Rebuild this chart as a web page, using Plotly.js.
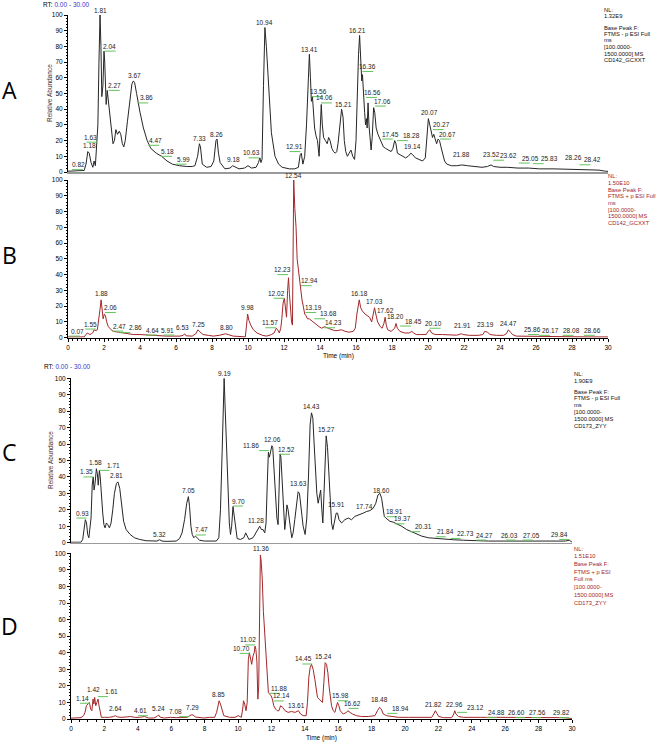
<!DOCTYPE html>
<html><head><meta charset="utf-8">
<script src="https://cdn.plot.ly/plotly-3.0.1.min.js"></script>
<style>html,body{margin:0;padding:0;background:#fff;}#chart{width:659px;height:743px;}</style>
</head><body><div id="chart"></div>
<script>
// ---------- Panel A: CD142_GCXXT, negative ESI (relative abundance vs time, min)
const aTime = [0,0.5,0.9,1.0,1.1,1.18,1.28,1.38,1.45,1.52,
 1.6,1.66,1.72,1.78,1.83,1.88,1.94,2.0,2.04,2.08,
 2.12,2.18,2.22,2.3,2.4,2.5,2.58,2.66,2.75,2.85,
 2.93,3.02,3.1,3.18,3.3,3.44,3.55,3.63,3.7,3.81,
 3.9,4.0,4.19,4.4,4.6,4.9,5.2,5.5,5.8,6.2,
 6.6,6.9,7.05,7.2,7.3,7.36,7.46,7.7,7.95,8.1,
 8.22,8.28,8.36,8.45,8.72,9.0,9.15,9.3,9.5,9.8,
 10.0,10.2,10.45,10.58,10.66,10.72,10.78,10.86,10.94,11.02,
 11.1,11.2,11.3,11.5,11.7,11.9,12.3,12.6,12.8,12.9,
 12.96,13.05,13.15,13.25,13.35,13.41,13.47,13.52,13.58,13.63,
 13.7,13.78,13.86,13.95,14.02,14.07,14.13,14.2,14.3,14.4,
 14.48,14.56,14.66,14.75,14.85,14.93,15.0,15.1,15.2,15.28,
 15.35,15.43,15.52,15.62,15.72,15.82,15.92,16.0,16.07,16.14,
 16.2,16.26,16.32,16.36,16.42,16.48,16.53,16.58,16.62,16.67,
 16.72,16.78,16.84,16.9,16.98,17.04,17.12,17.22,17.32,17.42,
 17.52,17.65,17.8,17.95,18.05,18.15,18.22,18.3,18.45,18.6,
 18.75,18.9,19.05,19.15,19.3,19.5,19.7,19.85,19.95,20.02,
 20.1,20.18,20.25,20.32,20.4,20.48,20.56,20.64,20.72,20.82,
 20.92,21.05,21.3,21.6,21.88,22.2,22.6,23.0,23.3,23.5,
 23.65,24.0,24.4,25.0,25.6,26.2,27.0,27.8,28.4,29.0,
 29.5,29.8,30];
const aAbund = [0.5,0.8,1,5,13,12,6,3,7,4,
 18,30,70,100,80,48,55,77,70,45,
 43,52,48,38,28,18,20,27,24,26,
 24,18,16,20,32,48,56,58,57,50,
 44,38,28,20,15,12,10,7,5,4,
 3.5,3.5,4,10,18,16,5,3,3.5,7,
 20,21,12,6,2,2.5,4,3,2,2.5,
 4,2.5,3,6,9,6,8,55,92,80,
 62,40,25,10,5,3,2,2,3,11,
 12,5,10,30,60,75,60,45,48,40,
 28,23,20,10,25,43,30,22,20,18,
 22,20,15,13,12,13,18,30,40,35,
 20,13,10,12,14,10,8,20,50,75,
 87,70,58,62,45,38,30,34,28,44,
 30,20,14,22,41,38,28,24,21,18,
 16,15,14,13,15,20,18,12,11,10,
 9,10,12,11,9,8,7,9,25,34,
 30,26,22,24,20,18,21,20,16,12,
 7,5,4,4,4.5,4,3.5,3,3.5,4.5,
 3.5,3,3,2.5,2.5,2,2,1.8,1.8,1.5,
 1.2,0.6,0.4];
const aLabText  = ["0.82","1.18","1.63","1.81","2.04","2.27","3.67","3.86","4.47","5.18","5.99","7.33","8.26","9.18","10.63","10.94","12.91","13.41","13.56","14.06","15.21","16.21","16.36","16.56","17.06","17.45","18.28","19.14","20.07","20.27","20.67","21.88","23.52","23.62","25.05","25.83","28.26","28.42"];
const aLabY     = [1.5,14,19,100,77,52,58,44,17,10,5,18,21,5,9,92,13,75,48,44,40,87,64,47.5,42,21,20,13,35,27,21,8,8,7.5,5.7,5.3,6,4.6];
const aLabOff   = [-0.26,0,-0.4,0,0.26,0.3,0,0.5,0.4,0.37,0.44,0,0,0,-0.43,0,-0.3,0,0.36,0.2,0.1,-0.1,0.3,0.38,0.43,0.45,0.78,0,0,0.49,0.43,0,0,0.83,0.65,0.9,-0.15,0.7];
const aLabGreen = [1,0,1,0,1,1,0,1,1,1,1,0,0,0,1,0,1,0,1,1,0,0,1,1,1,1,1,0,0,1,1,0,0,1,1,1,0,1];

// ---------- Panel B: CD142_GCXXT, positive ESI
const bTime = [0,0.5,0.9,1.0,1.07,1.15,1.22,1.3,1.37,1.45,
 1.55,1.63,1.7,1.78,1.84,1.9,1.95,2.02,2.08,2.15,
 2.24,2.4,2.52,2.8,3.07,3.4,3.63,4.0,4.56,5.0,
 5.48,5.9,6.22,6.4,6.48,6.56,6.9,7.1,7.22,7.3,
 7.5,7.8,8.07,8.4,8.6,8.75,8.9,9.18,9.5,9.85,
 9.92,9.98,10.05,10.15,10.3,10.5,10.8,11.04,11.3,11.45,
 11.57,11.65,11.74,11.82,11.88,11.95,12.02,12.08,12.14,12.2,
 12.25,12.3,12.36,12.42,12.47,12.51,12.54,12.6,12.67,12.73,
 12.78,12.85,12.92,13.0,13.07,13.15,13.22,13.3,13.4,13.5,
 13.6,13.7,13.81,13.95,14.09,14.25,14.46,14.6,14.8,14.95,
 15.2,15.4,15.6,15.85,15.96,16.05,16.12,16.18,16.26,16.35,
 16.5,16.65,16.75,16.87,16.95,17.03,17.1,17.2,17.35,17.45,
 17.55,17.62,17.68,17.76,17.95,18.15,18.22,18.3,18.44,18.7,
 18.95,19.1,19.2,19.35,19.6,19.9,20.0,20.1,20.2,20.4,
 20.8,21.2,21.6,21.85,21.95,22.3,22.8,23.05,23.15,23.3,
 23.45,23.8,24.2,24.35,24.47,24.58,24.7,24.9,25.5,26.0,
 27.0,28.0,29.0,30];
const bAbund = [0.5,0.5,0.5,2,3,2.5,2,2.5,3,5,
 4.5,5,10,18,24,18,12,15,14,10,
 7,5,4,3.5,3,2.5,2,2,1.5,1.2,
 1,1,1,1.5,2.5,1.2,1,2.5,5,4,
 2,1.5,1,1.5,2,2.5,2,1,0.8,0.5,
 8,15,11,8,5,3,1.5,1,2,3,
 6,5,3,6,12,22,25,20,13,30,
 38,28,15,10,8,60,100,82,70,50,
 45,40,30,24,20,15,14,12,12,11,
 10,9,8,7,6,7,6,5.5,4.5,4.5,
 5,4,3.5,4,6,15,22,24,19,17,
 15,14,13,10,14,19,15,10,7,6,
 9,13,8,5,4,6,9,6,4,3,
 3,4,3,2,2,2,4,5,3,2,
 2,1.8,1.6,2.5,2,1.5,1.5,2,4,3.5,
 2,1.5,1.5,2.5,5,3.5,2,1,1,0.8,
 0.7,0.6,0.5,0.5];
const bLabText  = ["0.07","1.55","1.88","2.06","2.47","2.86","4.64","5.91","6.53","7.25","8.80","9.98","11.57","12.02","12.23","12.54","12.94","13.19","13.68","14.23","16.18","17.03","17.62","18.20","18.45","20.10","21.91","23.19","24.47","25.86","26.17","28.08","28.66"];
const bLabY     = [1,5.5,25,16,4.2,3.2,1.7,1.7,3,5,3,16,6.3,25,40,100,33,16,12,6.3,25,20,14,10,7.4,6,4.5,5,6,2,1.5,1.5,1.5];
const bLabOff   = [0.46,-0.28,0,0.32,0.38,0.89,0.04,-0.4,-0.17,0,0,0,-0.37,-0.42,-0.31,0,0.46,0.46,0.8,0.5,0,0,0,0,0.75,0.23,0,0,0,-0.05,0.62,-0.13,0.48];
const bLabGreen = [1,1,0,1,1,1,1,1,0,0,0,0,1,1,1,0,1,1,1,1,0,0,0,0,1,1,0,0,0,1,1,1,1];

// ---------- Panel C: CD173_ZYY, negative ESI
const cTime = [0,0.6,0.7,0.78,0.86,0.93,1.0,1.07,1.13,1.2,
 1.27,1.33,1.38,1.44,1.52,1.58,1.63,1.7,1.75,1.82,
 1.9,1.97,2.04,2.12,2.2,2.3,2.4,2.5,2.6,2.72,
 2.81,2.92,3.04,3.15,3.3,3.54,3.8,4.1,4.5,4.9,
 5.15,5.3,5.45,5.7,6.0,6.3,6.5,6.65,6.8,6.93,
 7.03,7.1,7.18,7.26,7.35,7.45,7.55,7.7,8.0,8.4,
 8.7,8.85,8.95,9.05,9.12,9.17,9.22,9.3,9.4,9.48,
 9.55,9.62,9.7,9.76,9.84,9.95,10.15,10.35,10.46,10.55,
 10.65,10.9,11.1,11.22,11.3,11.4,11.5,11.6,11.68,11.75,
 11.82,11.88,11.95,12.03,12.08,12.16,12.25,12.33,12.4,12.46,
 12.52,12.57,12.65,12.72,12.8,12.87,12.93,13.0,13.08,13.15,
 13.22,13.3,13.4,13.5,13.6,13.68,13.78,13.9,14.02,14.12,
 14.22,14.32,14.4,14.48,14.56,14.64,14.72,14.8,14.88,14.95,
 15.02,15.08,15.15,15.22,15.28,15.36,15.45,15.53,15.6,15.68,
 15.78,15.88,15.96,16.05,16.2,16.4,16.6,16.8,17.0,17.3,
 17.5,17.7,17.9,18.1,18.25,18.38,18.5,18.6,18.68,18.76,
 18.85,18.95,19.1,19.3,19.5,19.8,20.1,20.4,20.7,21.0,
 21.4,21.9,22.4,22.9,23.5,24.0,25.0,26.0,27.0,28.0,
 29.0,29.6,29.84,30];
const cAbund = [0.3,0.3,2,8,14,12,5,3,8,15,
 35,40,32,36,45,42,35,44,40,28,
 18,11,9,12,11,9,12,20,30,36,
 37,33,22,13,8,5,3,2,1.2,0.8,
 1,1.8,1,0.8,0.8,1,2.5,6,14,24,
 28,22,10,5,3,4,3,1.5,1,0.8,
 1,3,20,55,90,100,85,60,35,12,
 5,10,22,17,8,2.5,2,3,6,4,
 2,3,7,9,10,8,8,6,12,35,
 55,52,55,59,58,45,30,15,11,35,
 54,52,38,20,8,15,23,20,15,8,
 3,6,14,22,31,30,20,10,5,15,
 40,72,79,76,60,42,30,24,30,32,
 20,12,30,58,65,58,40,25,12,8,
 14,18,18,14,12,14,15,14,16,17,
 18,19,19.5,21,24,29,30,27,20,16,
 15,14,13,12.5,11.5,10,8,6.5,5,4,
 3,2.5,2,1.8,1.5,1.2,1,1,1,1,
 1,1,1.5,0.3];
const cLabText  = ["0.93","1.35","1.58","1.71","2.81","5.32","7.05","7.47","9.19","9.70","11.28","11.86","12.06","12.52","13.63","14.43","15.27","15.91","17.74","18.60","18.91","19.37","20.31","21.84","22.73","24.27","26.03","27.05","29.84"];
const cLabY     = [15,40,46,44,38,2,29,4.7,100,22.3,10.3,56,60,53.8,33,80,66,20,19,29,15.8,11.5,6.7,3.6,2.6,1.6,1.6,1.6,2];
const cLabOff   = [-0.26,-0.41,-0.1,0.86,-0.07,0,0,0.36,0,0.32,-0.21,-1.1,0,0.41,0,0,0,0,-0.14,0,0.49,0.5,0.82,0.6,0.9,0.5,0.2,0.5,-0.56];
const cLabGreen = [1,1,0,1,0,0,0,1,0,1,0,1,0,1,0,0,0,0,0,0,1,1,1,1,1,1,1,1,1];

// ---------- Panel D: CD173_ZYY, positive ESI
const dTime = [0,0.6,0.75,0.84,0.92,1.0,1.1,1.18,1.25,1.32,
 1.37,1.42,1.48,1.55,1.62,1.68,1.74,1.82,2.0,2.3,
 2.55,2.65,2.8,3.0,3.3,3.55,3.8,4.1,4.4,4.63,
 4.95,5.15,5.24,5.35,5.6,5.95,6.3,6.6,6.95,7.2,
 7.3,7.45,7.7,7.95,8.3,8.6,8.72,8.8,8.87,8.95,
 9.05,9.15,9.5,9.82,10.02,10.2,10.28,10.33,10.4,10.48,
 10.55,10.62,10.68,10.75,10.82,10.9,10.97,11.02,11.07,11.13,
 11.19,11.24,11.29,11.34,11.38,11.45,11.52,11.6,11.67,11.74,
 11.82,11.9,11.98,12.06,12.14,12.25,12.35,12.45,12.55,12.68,
 12.82,13.0,13.2,13.42,13.62,13.75,13.9,14.08,14.16,14.24,
 14.32,14.4,14.5,14.6,14.68,14.76,14.86,14.96,15.06,15.14,
 15.22,15.3,15.38,15.45,15.52,15.6,15.7,15.8,15.88,15.96,
 16.04,16.12,16.3,16.5,16.58,16.7,16.85,17.1,17.4,17.8,
 18.2,18.35,18.48,18.58,18.7,18.9,19.2,19.6,20.2,20.8,
 21.3,21.6,21.72,21.82,21.9,22.02,22.3,22.8,22.92,22.98,
 23.05,23.2,23.5,24.0,24.5,25.5,26.5,27.5,28.5,29.5,
 30];
const dAbund = [0.5,0.8,2,4,8,9,10,6,5,12,
 9,13,8,10,12,8,4,1,1,1,
 1.5,2,1.2,1,1.2,1.5,1,1,1.5,0.6,
 0.6,1.5,2.5,1,0.6,1,0.8,0.8,1,2.5,
 2.5,1.2,0.8,0.6,1,1,4,9,11,9,
 5,2,1,1,2,1,6,11,9,5,
 10,36,40,35,33,38,40,44,42,35,
 12,20,60,99,96,85,65,52,35,25,
 16,15,14,12,8,6,5,5,8,7,
 5,4,4.5,4,5,3,2,2,10,25,
 31,33,30,24,18,13,12,11,10,22,
 34,33,28,20,14,8,5,4,7,10,
 8,5,3,4,5,4,3,2,1.5,1.5,
 2,5,7,6,3,2,1.5,1,1,1,
 1,1,3,5,3.5,1.5,0.8,0.8,3,5,
 3,1.5,1,1.2,1,1,1,1,0.8,0.8,
 0.3];
const dLabText  = ["1.14","1.42","1.61","2.64","4.61","5.24","7.08","7.29","8.85","10.70","11.02","11.36","11.88","12.14","13.61","14.45","15.24","15.98","16.62","18.48","18.94","21.82","22.96","23.12","24.88","26.60","27.56","29.82"];
const dLabY     = [9.5,15,13.5,3.2,2,3.4,1.4,3.8,12,39.6,44.7,100,15.5,10.9,5.2,33.2,34.8,11,6.4,8.7,3.4,6,6,4,0.8,0.8,0.8,0.8];
const dLabOff   = [-0.48,-0.06,0.8,0,-0.43,0,-0.85,0,0,-0.48,-0.4,0,0.58,0.44,-0.1,-0.54,-0.13,0.18,0.25,0,0.79,-0.12,0,1.11,0.62,0.1,0.4,-0.42];
const dLabGreen = [1,0,1,0,1,0,1,0,0,1,1,0,1,1,0,1,0,1,1,0,1,0,0,1,1,1,1,1];

// ---------- Header / info text
const infoA = ["NL:","1.32E9","Base Peak F:","FTMS - p ESI Full","ms","[100.0000-","1500.0000] MS","CD142_GCXXT"];
const infoB = ["NL:","1.50E10","Base Peak F:","FTMS + p ESI Full","ms","[100.0000-","1500.0000] MS","CD142_GCXXT"];
const infoC = ["NL:","1.90E9","Base Peak F:","FTMS - p ESI Full","ms","[100.0000-","1500.0000] MS","CD173_ZYY"];
const infoD = ["NL:","1.51E10","Base Peak F:","FTMS + p ESI","Full ms","[100.0000-","1500.0000] MS","CD173_ZYY"];
const panelLetters = ["A","B","C","D"];

// ---------- drawing
const W = 659, H = 743;
const F = '"Liberation Sans", Arial, sans-serif';
const BLACK = '#262626', RED = '#a3272a', GREEN = '#62c35a';
const PX = x => x / W, PY = y => 1 - y / H;

const panels = [
  {t:aTime, v:aAbund, lt:aLabText, ly:aLabY, lo:aLabOff, lg:aLabGreen, xa:'x',  ya:'y',  color:BLACK},
  {t:bTime, v:bAbund, lt:bLabText, ly:bLabY, lo:bLabOff, lg:bLabGreen, xa:'x2', ya:'y2', color:RED},
  {t:cTime, v:cAbund, lt:cLabText, ly:cLabY, lo:cLabOff, lg:cLabGreen, xa:'x3', ya:'y3', color:BLACK},
  {t:dTime, v:dAbund, lt:dLabText, ly:dLabY, lo:dLabOff, lg:dLabGreen, xa:'x4', ya:'y4', color:RED}
];

const traces = [];
const annotations = [];
panels.forEach(p => {
  traces.push({type:'scatter', mode:'lines', x:p.t, y:p.v, xaxis:p.xa, yaxis:p.ya,
    line:{color:p.color, width:1}, hoverinfo:'skip'});
  const gx = [], gy = [];
  p.lt.forEach((s, i) => {
    const t = parseFloat(s), off = p.lo[i];
    annotations.push({xref:p.xa, yref:p.ya, x:t + off, y:p.ly[i], text:s, showarrow:false,
      xanchor:'center', yanchor:'bottom', borderpad:0, yshift:0.5,
      font:{family:F, size:6.5, color:'#222'}});
    if (p.lg[i]) {
      const x0 = off > 0.05 ? t : (off < -0.05 ? t - 0.6 : t - 0.3);
      gx.push(x0, x0 + 0.6, null); gy.push(p.ly[i], p.ly[i], null);
    }
  });
  traces.push({type:'scatter', mode:'lines', x:gx, y:gy, xaxis:p.xa, yaxis:p.ya,
    line:{color:GREEN, width:1}, hoverinfo:'skip', connectgaps:false});
});

function txt(x, y, text, o) {
  o = o || {};
  return Object.assign({xref:'paper', yref:'paper', x:PX(x), y:PY(y), text:text, showarrow:false,
    xanchor:'left', yanchor:'middle', borderpad:0,
    font:{family:o.family || F, size:o.size || 7, color:o.color || '#000'}}, o.extra || {});
}

// info blocks
const infoBlocks = [
  {lines:infoA, x:603, ys:[10,16.5,28,34,40.5,47,53.5,60], color:'#111'},
  {lines:infoB, x:607, ys:[176,182.5,189.5,196,203,209.5,216,222.5], color:RED},
  {lines:infoC, x:573, ys:[374,380.5,391.5,398,405,412,419,426], color:'#111'},
  {lines:infoD, x:573, ys:[549,555.5,564,571.5,579,587,595,602.5], color:RED}
];
infoBlocks.forEach(b => b.lines.forEach((l, i) => annotations.push(txt(b.x, b.ys[i], l, {size:5.8, color:b.color}))));

// RT headers
const rtText = 'RT: <span style="color:#3a3ad0">0.00 - 30.00</span>';
annotations.push(txt(42, 4.5, rtText, {size:6.5}));
annotations.push(txt(43, 366, rtText, {size:6.5}));

// panel letters
const letterPos = [[9,90],[9,255],[9,452],[9,626]];
panelLetters.forEach((L, i) => annotations.push(txt(letterPos[i][0], letterPos[i][1], L,
  {extra:{xanchor:'center', font:{family:'"Open Sans", "Noto Sans", sans-serif', size:23, color:'#000'}}})));

// y titles
annotations.push(txt(50, 93, 'Relative Abundance', {size:6.5, color:'#4a2e2e', extra:{xanchor:'center', textangle:-90}}));
annotations.push(txt(50, 460, 'Relative Abundance', {size:6.5, color:'#4a2e2e', extra:{xanchor:'center', textangle:-90}}));
// x titles
annotations.push(txt(338, 355.5, 'Time (min)', {size:6.5, extra:{xanchor:'center'}}));
annotations.push(txt(321, 737.5, 'Time (min)', {size:6.5, extra:{xanchor:'center'}}));

function yax(top0, top100, anchor) {
  return {domain:[PY(top0), PY(top100)], anchor:anchor, range:[0,100], tick0:0, dtick:10,
    ticks:'outside', ticklen:3, tickwidth:1, tickcolor:'#000', showline:true, linecolor:'#000', linewidth:1,
    showgrid:false, zeroline:false, automargin:false, fixedrange:true,
    tickfont:{family:F, size:6.5, color:'#000'},
    minor:{ticks:'outside', ticklen:1.5, dtick:2, tickcolor:'#000', showgrid:false}};
}
function xax(dom, anchor, labels, minorStep) {
  const a = {domain:dom, anchor:anchor, range:[0,30], showgrid:false, zeroline:false, automargin:false,
    fixedrange:true, showline:true};
  if (labels) {
    Object.assign(a, {ticks:'outside', tick0:0, dtick:2, ticklen:3, tickwidth:1, tickcolor:'#000',
      linecolor:'#000', linewidth:1, tickfont:{family:F, size:6.5, color:'#000'},
      minor:{ticks:'outside', ticklen:2, dtick:minorStep, tickcolor:'#000', showgrid:false}});
  } else {
    Object.assign(a, {ticks:'', showticklabels:false, linecolor:'#9a9a9a', linewidth:1.5});
  }
  return a;
}
const domAB = [68/W, 608/W], domCD = [71/W, 572/W];

const layout = {
  width:W, height:H, margin:{l:0, r:0, t:0, b:0, pad:0},
  paper_bgcolor:'#fff', plot_bgcolor:'rgba(0,0,0,0)', showlegend:false,
  font:{family:F, size:7, color:'#000'},
  xaxis: xax(domAB, 'y', false),
  xaxis2: xax(domAB, 'y2', true, 0.25),
  xaxis3: xax(domCD, 'y3', false),
  xaxis4: xax(domCD, 'y4', true, 0.5),
  yaxis: yax(172, 15, 'x'),
  yaxis2: yax(337.7, 180, 'x2'),
  yaxis3: yax(542.7, 378.3, 'x3'),
  yaxis4: yax(719, 553.3, 'x4'),
  annotations: annotations
};
Plotly.newPlot('chart', traces, layout, {staticPlot:true, displayModeBar:false});
</script></body></html>
